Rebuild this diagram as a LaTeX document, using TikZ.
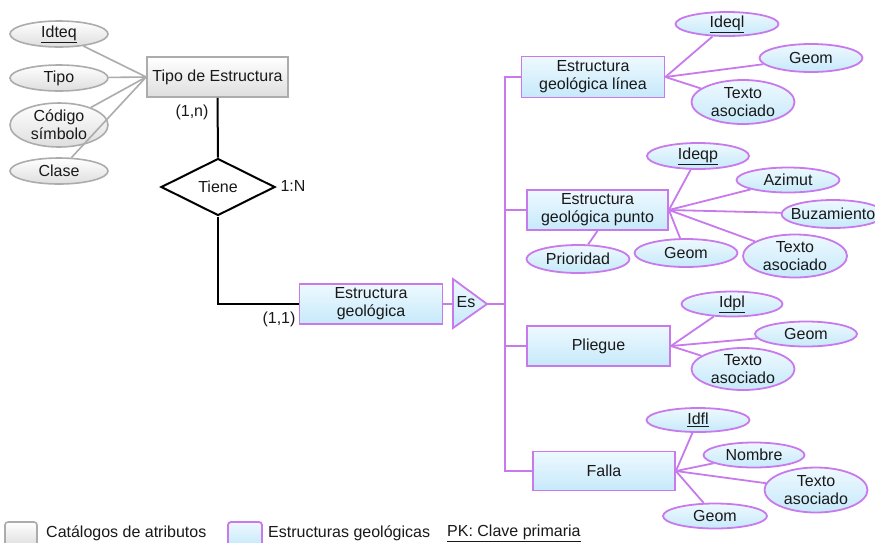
\documentclass[tikz,border=0pt]{standalone}
\usepackage{fontspec}
\setmainfont{Liberation Sans}
\usetikzlibrary{shapes.geometric}
\definecolor{purp}{RGB}{200,122,236}
\definecolor{bluetop}{RGB}{238,249,255}
\definecolor{bluebot}{RGB}{198,233,250}
\definecolor{grayline}{RGB}{172,172,172}
\definecolor{graybot}{RGB}{222,222,222}
\definecolor{ink}{RGB}{25,25,25}
\begin{document}
\begin{tikzpicture}[x=1pt,y=-1pt,
  every node/.style={font=\fontsize{16}{18}\selectfont, text=ink, inner sep=0pt, align=center},
  every label/.style={font=\fontsize{16}{18}\selectfont, text=ink, inner sep=0pt, align=center},
  geo/.style={draw=purp, line width=1.8pt, top color=bluetop, bottom color=bluebot},
  cat/.style={draw=grayline, line width=1.6pt, top color=white, bottom color=graybot},
  box/.style 2 args={rectangle, minimum width=#1, minimum height=#2},
  attr/.style 2 args={ellipse, minimum width=#1, minimum height=#2},
  pl/.style={draw=purp, line width=1.8pt},
  gl/.style={draw=grayline, line width=1.6pt},
  bl/.style={draw=black, line width=2pt},
  card/.style={fill=none, draw=none}
]
\clip (0,0) rectangle (875,542);
\fill[white] (0,0) rectangle (875,542);

% ---------- catalogue of structure types ----------
\node[cat, box={141}{40}] (tipoest) at (217.5,77) {Tipo de Estructura};
\node[cat, attr={98}{26}, label={center:\underline{Idteq}}] (idteq) at (59,34) {};
\node[cat, attr={98}{26}, label={center:Tipo}] (tipo) at (59,78) {};
\node[cat, attr={98}{44}, label={center:Código\\símbolo}] (codigo) at (59,125) {};
\node[cat, attr={98}{26}, label={center:Clase}] (clase) at (59,171) {};
\foreach \a in {idteq,tipo,codigo,clase}
  \draw[gl] (\a) -- (tipoest.west);

% ---------- relationship ----------
\node[diamond, draw=black, line width=2pt, fill=white, minimum width=114, minimum height=57, aspect=2] (tiene) at (218,187) {Tiene};
\node[card] (cardn) at (192,112) {(1,n)};
\node[card] (card1n) at (293,186) {1:N};
\node[card] (card11) at (279,319) {(1,1)};

\node[geo, box={143}{40}] (eg) at (371,304) {Estructura\\geológica};
\draw[bl] (tipoest.south) -- (tiene.north);
\draw[bl] (tiene.south) |- (eg.west);

% ---------- specialisation triangle ----------
\coordinate (esL) at (453,304);
\coordinate (esA) at (487,304);
\draw[geo] (453,279) -- (esA) -- (453,328) -- cycle;
\node (es) at (466,302) {Es};
\draw[pl] (eg.east) -- (esL);

% ---------- subtypes ----------
\node[geo, box={143}{41}] (linea) at (593,77) {Estructura\\geológica línea};
\node[geo, box={141}{40}] (punto) at (597.5,210) {Estructura\\geológica punto};
\node[geo, box={143}{40}] (pliegue) at (598.5,346) {Pliegue};
\node[geo, box={142}{39}] (falla) at (604,471) {Falla};

\coordinate (bus) at (505,0);
\draw[pl] (linea.west) -- (linea.west -| bus) -- (falla.west -| bus) -- (falla.west);
\draw[pl] (punto.west) -- (punto.west -| bus);
\draw[pl] (pliegue.west) -- (pliegue.west -| bus);
\draw[pl] (esA) -- (esA -| bus);

% attributes of line structures
\node[geo, attr={103}{24}, label={center:\underline{Ideql}}] (ideql) at (727,24) {};
\node[geo, attr={103}{28}, label={center:Geom}] (geoml) at (811,58) {};
\node[geo, attr={103}{44}, label={center:Texto\\asociado}] (textol) at (743,102) {};
\foreach \a in {ideql,geoml,textol}
  \draw[pl] (linea.east) -- (\a);

% attributes of point structures
\node[geo, attr={102}{26}, label={center:\underline{Ideqp}}] (ideqp) at (698,156) {};
\node[geo, attr={103}{25}, label={center:Azimut}] (azimut) at (788,180) {};
\node[geo, attr={103}{28}, label={center:Buzamiento}] (buzam) at (833,214) {};
\node[geo, attr={104}{43}, label={center:Texto\\asociado}] (textop) at (795,256) {};
\node[geo, attr={103}{28}, label={center:Geom}] (geomp) at (686,253) {};
\node[geo, attr={103}{28}, label={center:Prioridad}] (prior) at (578,259) {};
\foreach \a in {ideqp,azimut,buzam,textop,geomp}
  \draw[pl] (punto.east) -- (\a);
\draw[pl] (punto.south) -- (prior);

% attributes of folds
\node[geo, attr={101}{25}, label={center:\underline{Idpl}}] (idpl) at (732,304) {};
\node[geo, attr={102}{25}, label={center:Geom}] (geompl) at (806,334) {};
\node[geo, attr={103}{42}, label={center:Texto\\asociado}] (textopl) at (743,369) {};
\foreach \a in {idpl,geompl,textopl}
  \draw[pl] (pliegue.east) -- (\a);

% attributes of faults
\node[geo, attr={103}{24}, label={center:\underline{Idfl}}] (idfl) at (698,420) {};
\node[geo, attr={101}{25}, label={center:Nombre}] (nombre) at (754,455) {};
\node[geo, attr={103}{45}, label={center:Texto\\asociado}] (textof) at (816,490) {};
\node[geo, attr={104}{25}, label={center:Geom}] (geomf) at (715,516) {};
\foreach \a in {idfl,nombre,textof,geomf}
  \draw[pl] (falla.east) -- (\a);

% ---------- legend ----------
\node[cat, rounded corners=3pt, box={32}{24}] (legcat) at (21,534) {};
\node[anchor=west] (legcattxt) at (46,533) {Catálogos de atributos};
\node[geo, rounded corners=3pt, box={34}{24}] (leggeo) at (245,534) {};
\node[anchor=west] (leggeotxt) at (268,533) {Estructuras geológicas};
\node[anchor=west] (legpk) at (447,533) {\underline{PK: Clave primaria}};
\end{tikzpicture}
\end{document}
